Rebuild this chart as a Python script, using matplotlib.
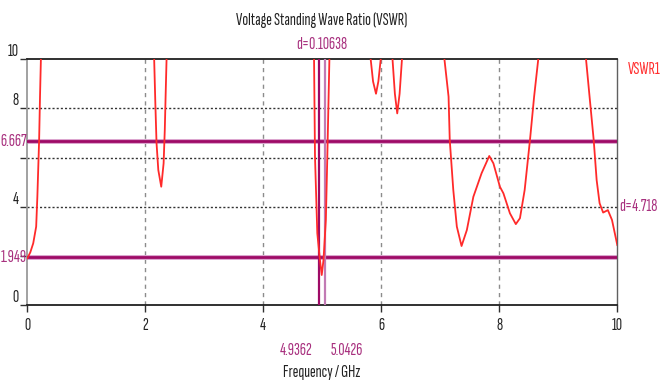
import numpy as np
import matplotlib
matplotlib.use("Agg")
import matplotlib.pyplot as plt

# VSWR curve in pieces (each piece leaves the top of the plot)
seg_freq = [
    [0.0, 0.05, 0.10, 0.15, 0.17, 0.20, 0.215, 0.23],
    [2.15, 2.17, 2.19, 2.22, 2.27, 2.31, 2.33, 2.345, 2.36],
    [4.86, 4.876, 4.915, 4.96, 4.99, 5.02, 5.06, 5.085, 5.12],
    [5.82, 5.86, 5.91, 5.95, 5.99],
    [6.19, 6.23, 6.27, 6.31, 6.35],
    [7.07, 7.14, 7.16, 7.22, 7.28, 7.36, 7.45, 7.56, 7.70, 7.83, 7.90,
     8.01, 8.07, 8.18, 8.28, 8.35, 8.43, 8.52, 8.59, 8.66],
    [9.47, 9.53, 9.60, 9.65, 9.70, 9.76, 9.84, 9.91, 10.0],
]
seg_vswr = [
    [1.91, 2.15, 2.52, 3.2, 4.41, 6.72, 8.48, 10.0],
    [10.0, 8.2, 6.6, 5.5, 4.82, 5.77, 7.13, 8.6, 10.0],
    [10.0, 6.04, 2.93, 1.84, 1.23, 1.84, 3.47, 6.04, 10.0],
    [10.0, 9.1, 8.6, 9.1, 10.0],
    [10.0, 8.6, 7.8, 8.6, 10.0],
    [10.0, 8.48, 6.72, 4.69, 3.2, 2.41, 3.06, 4.41, 5.37, 6.07, 5.77,
     4.82, 4.55, 3.74, 3.30, 3.54, 4.69, 6.72, 8.48, 10.0],
    [10.0, 8.48, 6.72, 5.09, 4.15, 3.77, 3.87, 3.47, 2.45],
]

# markers
h_marks = [1.949, 6.667]
v_marks = [4.9362, 5.0426]
x_ticks = [0, 2, 4, 6, 8, 10]
y_ticks = [0, 2, 4, 6, 8, 10]
y_ticklabels = ["0", "", "4", "", "8", "10"]   # 2 and 6 sit under the marker values

plt.rcParams["font.family"] = ["Sofia Sans Extra Condensed", "DejaVu Sans"]

fig = plt.figure(figsize=(6.6, 3.85), dpi=100)
ax = fig.add_axes([0.0414, 0.207, 0.8939, 0.639])
ax.set_xlim(0, 10)
ax.set_ylim(0, 10)

# grid
for x in x_ticks[1:-1]:
    ax.axvline(x, color="#8c8c8c", lw=1.0, ls=(0, (3, 3)), zorder=1)
for y in y_ticks[1:-1]:
    ax.axhline(y, color="#333333", lw=1.0, ls=(0, (1.5, 1.5)), zorder=1)

# marker lines
pink = "#dca6cf"
mag = "#9e0a66"
for y in h_marks:
    ax.axhline(y, color=pink, lw=3.6, zorder=2)
    ax.axhline(y, color=mag, lw=2.0, zorder=3)
ax.axvline(v_marks[0], color=mag, lw=1.6, zorder=3)
ax.axvline(v_marks[1], color="#c27ab4", lw=1.6, zorder=3)

for fx, fy in zip(seg_freq, seg_vswr):
    ax.plot(fx, fy, color="#ff2a2a", lw=1.3, zorder=4)

# frame
ax.spines["top"].set_color("#202020")
ax.spines["bottom"].set_color("#202020")
ax.spines["left"].set_color("#9a9a9a")
ax.spines["right"].set_color("#606060")
for s in ["top", "bottom", "left"]:
    ax.spines[s].set_linewidth(1.3)
ax.spines["right"].set_linewidth(1.0)

ax.set_xticks(x_ticks)
ax.set_yticks(y_ticks, y_ticklabels)
ax.tick_params(axis="both", direction="out", length=5, width=1.0, color="#303030",
               labelsize=12.5, labelcolor="#222222")
ax.tick_params(axis="x", pad=4)
ax.tick_params(axis="y", pad=1)
for lab in ax.get_yticklabels():
    lab.set_va("bottom")

# marker texts
tkw = dict(fontsize=12.5, color="#a8307e")
ax.text(-0.01, h_marks[1], "6.667", ha="right", va="center", clip_on=False, **tkw)
ax.text(-0.01, h_marks[0], "1.949", ha="right", va="center", clip_on=False, **tkw)
ax.text(sum(v_marks) / 2, 10.3, "d=0.10638", ha="center", va="bottom", clip_on=False, **tkw)
ax.text(v_marks[0] - 0.1, -1.82, "4.9362", ha="right", va="center", clip_on=False, **tkw)
ax.text(v_marks[1] + 0.1, -1.82, "5.0426", ha="left", va="center", clip_on=False, **tkw)
ax.text(10.03, 4.0, "d=4.718", ha="left", va="center", clip_on=False, **tkw)
ax.text(10.18, 9.6, "VSWR1", ha="left", va="center", color="#ff3030",
        fontsize=12.5, clip_on=False)

fig.text(0.488, 1 - 20 / 385, "Voltage Standing Wave Ratio (VSWR)", ha="center",
         va="center", fontsize=12.5, color="#222222")
fig.text(0.488, 1 - 373 / 385, "Frequency / GHz", ha="center", va="center",
         fontsize=12.5, color="#222222")

fig.savefig("out.png", dpi=100)
